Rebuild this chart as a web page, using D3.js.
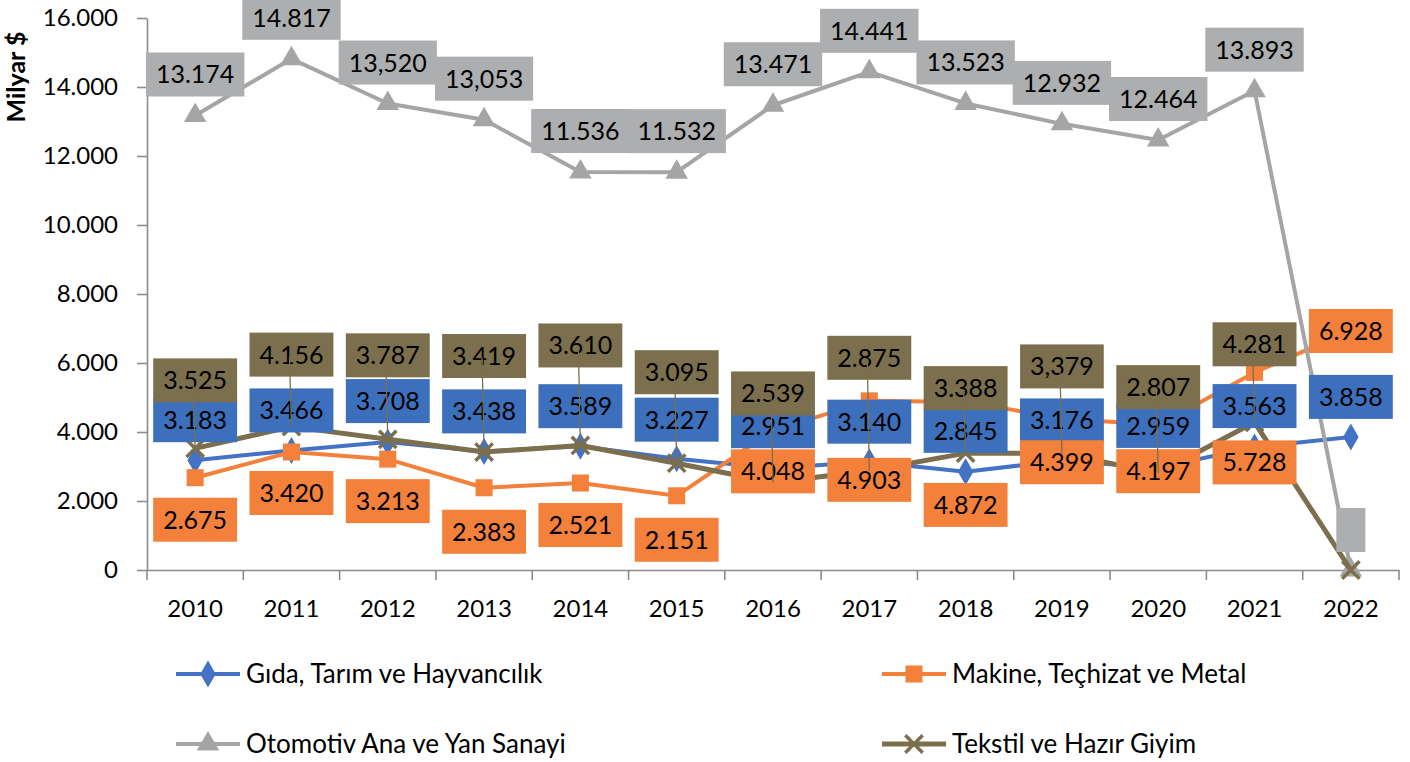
<!DOCTYPE html>
<meta charset="utf-8">

<script src="https://d3js.org/d3.v7.min.js"></script>

<style type="text/css">
body { margin: 0; background: #fff; }
text { font-family: Lato, "Open Sans", sans-serif; fill: #000; }
</style>

<body>
</body>

<script>

// data
var years = ["2010","2011","2012","2013","2014","2015","2016","2017","2018","2019","2020","2021","2022"];

var seriesNames = ["Gıda, Tarım ve Hayvancılık", "Makine, Teçhizat ve Metal",
                   "Otomotiv Ana ve Yan Sanayi", "Tekstil ve Hazır Giyim"];

var gida     = [3183, 3466, 3708, 3438, 3589, 3227, 2951, 3140, 2845, 3176, 2959, 3563, 3858];
var makine   = [2675, 3420, 3213, 2383, 2521, 2151, 4048, 4903, 4872, 4399, 4197, 5728, 6928];
var otomotiv = [13174, 14817, 13520, 13053, 11536, 11532, 13471, 14441, 13523, 12932, 12464, 13893, 0];
var tekstil  = [3525, 4156, 3787, 3419, 3610, 3095, 2539, 2875, 3388, 3379, 2807, 4281, 0];

// label texts as printed on the chart (some use a comma)
var gidaLabels     = ["3.183","3.466","3.708","3.438","3.589","3.227","2.951","3.140","2.845","3.176","2.959","3.563","3.858"];
var makineLabels   = ["2.675","3.420","3.213","2.383","2.521","2.151","4.048","4.903","4.872","4.399","4.197","5.728","6.928"];
var otomotivLabels = ["13.174","14.817","13,520","13,053","11.536","11.532","13.471","14.441","13.523","12.932","12.464","13.893",""];
var tekstilLabels  = ["3.525","4.156","3.787","3.419","3.610","3.095","2.539","2.875","3.388","3,379","2.807","4.281",null];

var yTicks = [0, 2000, 4000, 6000, 8000, 10000, 12000, 14000, 16000];

// label placement (pixel offset of the label centre from its point)
var gidaDy     = [-40,-40,-41,-40,-40,-39,-42,-40,-41,-40,-42,-41,-40];
var makineDy   = [42, 41, 42, 44, 42, 44, 41, 79, 103, 44, 46, 90, 0];
var otomotivDy = [-41,-41,-41,-41,-41,-41,-41,-41,-41,-41,-41,-41,-40];
var tekstilDy  = [-68,-72,-84,-96,-100,-91,-89,-113,-65,-87,-86,-78,0];

var colors  = ["#4472C4", "#F3813B", "#A5A5A5", "#7B6F4D"];
var boxFill = ["#3C70BC", "#F3813B", "#ACAEAF", "#7B6F4D"];

var series = [
  {name: seriesNames[0], values: gida,     labels: gidaLabels,     dy: gidaDy,     marker: "diamond"},
  {name: seriesNames[1], values: makine,   labels: makineLabels,   dy: makineDy,   marker: "square"},
  {name: seriesNames[2], values: otomotiv, labels: otomotivLabels, dy: otomotivDy, marker: "triangle"},
  {name: seriesNames[3], values: tekstil,  labels: tekstilLabels,  dy: tekstilDy,  marker: "x"}
];

var width = 1410, height = 762;

var svg = d3.select("body").append("svg")
  .attr("width", width)
  .attr("height", height);

var xScale = d3.scaleBand().domain(years).range([147, 1399]);
var yScale = d3.scaleLinear().domain([0, 16000]).range([570, 18]);

var locale = d3.formatLocale({decimal: ",", thousands: ".", grouping: [3], currency: ["", ""]});
var fmt = locale.format(",d");

function cx(i) { return xScale(years[i]) + xScale.bandwidth() / 2; }

// axes
var yAxis = d3.axisLeft(yScale)
  .tickValues(yTicks)
  .tickFormat(fmt)
  .tickSize(10)
  .tickSizeOuter(0)
  .tickPadding(19);

var yAxisGroup = svg.append("g")
  .attr("class", "y axis")
  .attr("transform", "translate(147,0)")
  .call(yAxis);

var xAxis = d3.axisBottom(xScale)
  .tickSize(0)
  .tickSizeOuter(0)
  .tickPadding(30);

var xAxisGroup = svg.append("g")
  .attr("class", "x axis")
  .attr("transform", "translate(0,570)")
  .call(xAxis);

// excel style ticks between the categories
xAxisGroup.selectAll(".bound")
  .data(years.concat(["end"]))
  .enter().append("line")
  .attr("class", "bound")
  .attr("x1", function(d, i) { return i < years.length ? xScale(d) : xScale.range()[1]; })
  .attr("x2", function(d, i) { return i < years.length ? xScale(d) : xScale.range()[1]; })
  .attr("y1", 0)
  .attr("y2", 10);

svg.selectAll(".axis path, .axis line")
  .attr("stroke", "#8C8C8C")
  .attr("stroke-width", 1.6);

svg.selectAll(".axis text")
  .style("font-size", "24px")
  .attr("fill", "#000");

// y title
svg.append("text")
  .attr("transform", "translate(25,77) rotate(-90)")
  .attr("text-anchor", "middle")
  .style("font-size", "25px")
  .style("font-weight", "bold")
  .text("Milyar $");

// markers
function markerPath(type, size) {
  if (type === "diamond") return d3.symbol().type(d3.symbolDiamond).size(size)();
  if (type === "square") return d3.symbol().type(d3.symbolSquare).size(size)();
  if (type === "triangle") return d3.symbol().type(d3.symbolTriangle).size(size)();
  var r = Math.sqrt(size) / 2;
  return "M" + (-r) + "," + (-r) + "L" + r + "," + r + "M" + (-r) + "," + r + "L" + r + "," + (-r);
}
var markerSize = {diamond: 210, square: 290, triangle: 220, x: 300};
var lineWidth = [4, 4, 4, 5];

var line = d3.line()
  .x(function(d, i) { return cx(i); })
  .y(function(d) { return yScale(d); });

series.forEach(function(s, k) {
  var g = svg.append("g").attr("class", "series");
  g.append("path")
    .datum(s.values)
    .attr("d", line)
    .attr("fill", "none")
    .attr("stroke", colors[k])
    .attr("stroke-width", lineWidth[k])
    .attr("stroke-linejoin", "round");

  g.selectAll(".marker")
    .data(s.values)
    .enter().append("path")
    .attr("class", "marker")
    .attr("transform", function(d, i) { return "translate(" + cx(i) + "," + yScale(d) + ")"; })
    .attr("d", markerPath(s.marker, markerSize[s.marker]))
    .attr("fill", s.marker === "x" ? "none" : colors[k])
    .attr("stroke", colors[k])
    .attr("stroke-width", s.marker === "x" ? 3.5 : 0);
});

// data labels
series.forEach(function(s, k) {
  var g = svg.append("g").attr("class", "labels");
  var items = s.values.map(function(v, i) {
    return {x: cx(i), y: yScale(v) + s.dy[i], py: yScale(v), text: s.labels[i]};
  }).filter(function(d) { return d.text !== null; });

  var lab = g.selectAll(".lab")
    .data(items)
    .enter().append("g")
    .attr("class", "lab")
    .attr("transform", function(d) { return "translate(" + d.x + "," + d.y + ")"; });

  var rect = lab.append("rect").attr("fill", boxFill[k]);

  var txt = lab.append("text")
    .attr("text-anchor", "middle")
    .attr("dy", "0.36em")
    .style("font-size", "25px")
    .text(function(d) { return d.text; });

  txt.each(function(d) {
    var w = Math.max(this.getComputedTextLength() + 20, 29);
    d3.select(this.parentNode).select("rect")
      .attr("x", -w / 2)
      .attr("y", -22)
      .attr("width", w)
      .attr("height", 44);
  });
});

// leader lines for the tekstil labels
var leader = svg.append("g").attr("class", "leaders");
leader.selectAll("line")
  .data(tekstil.map(function(v, i) { return {x: cx(i), y0: yScale(v) + tekstilDy[i], y1: yScale(v), t: tekstilLabels[i]}; })
    .filter(function(d) { return d.t !== null; }))
  .enter().append("line")
  .attr("x1", function(d) { return d.x - 2; })
  .attr("x2", function(d) { return d.x; })
  .attr("y1", function(d) { return d.y0 + 2; })
  .attr("y2", function(d) { return d.y1; })
  .attr("stroke", "#7B6F4D")
  .attr("stroke-width", 1.3);

// legend
var legendPos = [[176, 674], [882, 674], [176, 744], [882, 744]];
var legend = svg.selectAll(".legend")
  .data(series)
  .enter().append("g")
  .attr("class", "legend")
  .attr("transform", function(d, i) { return "translate(" + legendPos[i][0] + "," + legendPos[i][1] + ")"; });

legend.append("line")
  .attr("x1", 0).attr("x2", 64)
  .attr("y1", 0).attr("y2", 0)
  .attr("stroke", function(d, i) { return colors[i]; })
  .attr("stroke-width", function(d, i) { return lineWidth[i]; });

legend.append("path")
  .attr("transform", "translate(32,0)")
  .attr("d", function(d) { return markerPath(d.marker, markerSize[d.marker]); })
  .attr("fill", function(d, i) { return d.marker === "x" ? "none" : colors[i]; })
  .attr("stroke", function(d, i) { return colors[i]; })
  .attr("stroke-width", function(d) { return d.marker === "x" ? 3.5 : 0; });

legend.append("text")
  .attr("x", 70)
  .attr("dy", "0.36em")
  .style("font-size", "26px")
  .text(function(d) { return d.name; });

</script>
